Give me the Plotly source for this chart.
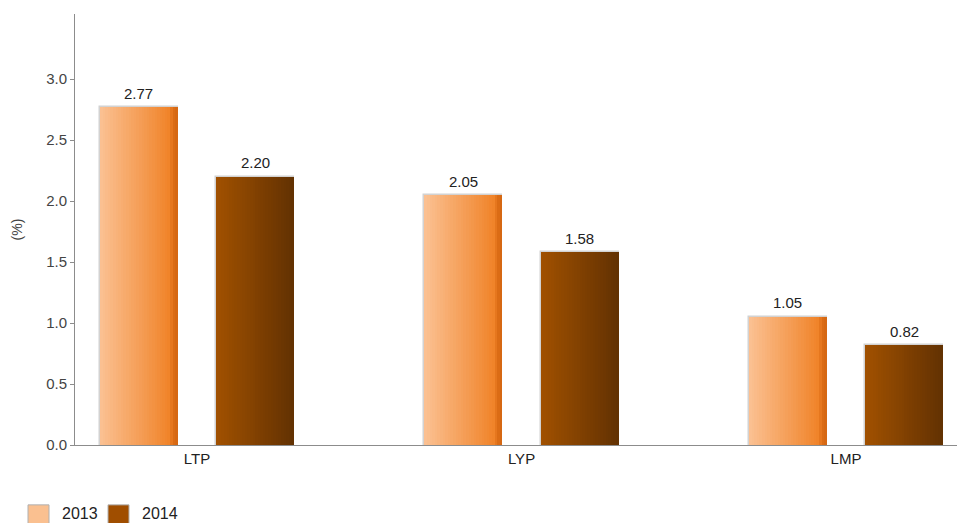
import plotly.graph_objects as go

categories = ["LTP", "LYP", "LMP"]
series_names = ["2013", "2014"]
values_2013 = [2.77, 2.05, 1.05]
values_2014 = [2.20, 1.58, 0.82]
y_ticks = [0.0, 0.5, 1.0, 1.5, 2.0, 2.5, 3.0]

FONT = "Liberation Sans, Arial, sans-serif"
BAR_W = 0.24
OFFSETS = {"2013": -0.179 - BAR_W / 2, "2014": 0.179 - BAR_W / 2}
N_SLICES = 30

# horizontal gradient stops (position, rgb)
GRADIENTS = {
    "2013": [(0.0, (251, 193, 147)), (0.9, (240, 131, 40)), (0.93, (222, 110, 22)), (1.0, (212, 102, 18))],
    "2014": [(0.0, (161, 81, 0)), (1.0, (98, 49, 2))],
}
LEGEND_COLORS = {"2013": "#FAC090", "2014": "#A04E00"}


def grad_color(stops, t):
    for (p0, c0), (p1, c1) in zip(stops, stops[1:]):
        if p0 <= t <= p1:
            f = 0 if p1 == p0 else (t - p0) / (p1 - p0)
            c = [round(a + (b - a) * f) for a, b in zip(c0, c1)]
            return "rgb(%d,%d,%d)" % tuple(c)
    return "rgb(%d,%d,%d)" % stops[-1][1]


fig = go.Figure()
data = {"2013": values_2013, "2014": values_2014}
xi = list(range(len(categories)))

for name in series_names:
    vals = data[name]
    off = OFFSETS[name]
    # thin grey frame behind each bar
    fig.add_trace(go.Bar(
        x=xi, y=vals, width=BAR_W, offset=off,
        marker=dict(color="rgba(0,0,0,0)", line=dict(color="#d2d2d2", width=1.5)),
        showlegend=False, hoverinfo="skip",
    ))
    sw = BAR_W / N_SLICES
    for k in range(N_SLICES):
        t = (k + 0.5) / N_SLICES
        fig.add_trace(go.Bar(
            x=xi, y=vals, width=sw * 1.02, offset=off + k * sw,
            marker=dict(color=grad_color(GRADIENTS[name], t), line=dict(width=0)),
            showlegend=False, hoverinfo="skip", name=name,
        ))
    # value labels above bars
    for i, v in zip(xi, vals):
        fig.add_annotation(
            x=i + off + BAR_W / 2, y=v, text="%.2f" % v,
            yshift=14, yanchor="middle", showarrow=False,
            font=dict(family=FONT, size=15, color="#222"),
        )

# legend drawn at bottom-left
plot_l, plot_w = 75, 882
legend_items = [("2013", 28, 60), ("2014", 108, 140)]
for name, sx, tx in legend_items:
    fig.add_shape(type="rect", xref="paper", yref="paper",
                  x0=(sx - plot_l) / plot_w, x1=(sx + 21 - plot_l) / plot_w,
                  y0=-(505 - 445) / 432, y1=-(527 - 445) / 432,
                  fillcolor=LEGEND_COLORS[name], line=dict(color="#b0b0b0", width=1))
    fig.add_annotation(text=name, xref="paper", yref="paper",
                       x=(tx - plot_l) / plot_w, y=-(514 - 445) / 432,
                       xanchor="left", yanchor="middle", showarrow=False,
                       font=dict(family=FONT, size=16, color="#222"))

fig.update_layout(
    width=957, height=523,
    margin=dict(l=75, r=0, t=14, b=78),
    barmode="overlay",
    bargap=0,
    plot_bgcolor="white", paper_bgcolor="white",
    showlegend=False,
    font=dict(family=FONT, size=15, color="#444"),
    xaxis=dict(
        range=[-0.376, 2.342],
        tickvals=xi, ticktext=categories,
        showgrid=False, zeroline=False,
        showline=True, linecolor="#8c8c8c", linewidth=1,
        ticks="", tickfont=dict(family=FONT, size=15, color="#222"),
    ),
    yaxis=dict(
        range=[0, 3.535],
        tickvals=y_ticks, ticktext=["%.1f" % v for v in y_ticks],
        showgrid=False, zeroline=False,
        showline=True, linecolor="#8c8c8c", linewidth=1,
        ticks="outside", ticklen=4, tickcolor="#8c8c8c",
        tickfont=dict(family=FONT, size=15, color="#444"),
        title=dict(text="(%)", font=dict(family=FONT, size=14, color="#444"), standoff=20),
    ),
)

fig.write_html("out.html")
